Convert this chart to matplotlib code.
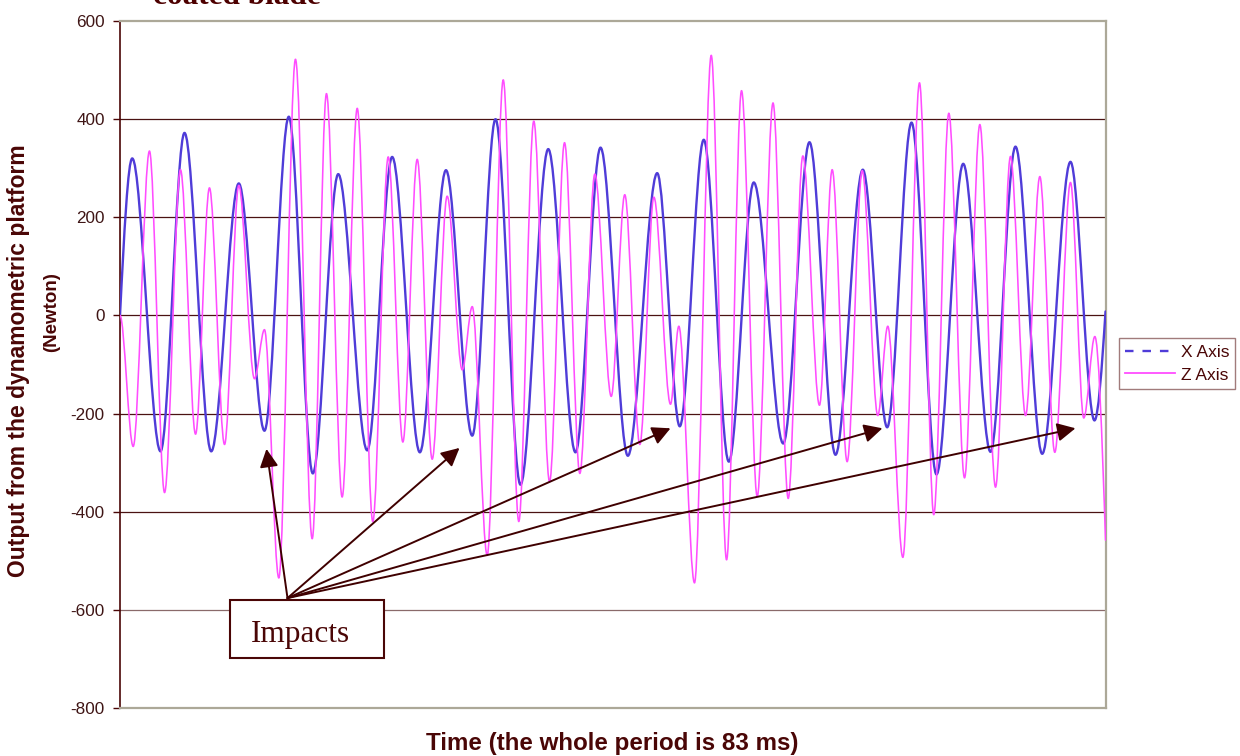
import numpy as np
import matplotlib
matplotlib.use("Agg")
import matplotlib.pyplot as plt
from matplotlib.path import Path
from matplotlib.patches import PathPatch, Rectangle
from matplotlib.lines import Line2D

# ---------------- data (extrema) ----------------
# X Axis force (N): time (ms) of each turning point and its value
x_axis_t = [0.0, 1.03, 3.41, 5.43, 7.68, 10.0, 12.16, 14.21, 16.23, 18.37, 20.81,
            22.91, 25.24, 27.44, 29.65, 31.61, 33.71, 36.05, 38.34, 40.45, 42.75,
            45.22, 47.12, 49.14, 51.25, 53.35, 55.83, 58.04, 60.23, 62.53, 64.58,
            66.63, 68.73, 70.98, 73.28, 75.38, 77.63, 80.01, 82.03, 82.96]
x_axis_v = [0, 320, -277, 372, -277, 269, -235, 405, -322, 288, -275,
            323, -279, 296, -245, 400, -345, 339, -279, 342, -286,
            290, -226, 358, -298, 271, -261, 353, -284, 297, -228,
            393, -324, 309, -278, 344, -282, 313, -214, 8]

# Z Axis force (N)
z_axis_t = [0.0, 1.11, 2.48, 3.75, 5.09, 6.36, 7.53, 8.8, 10.0, 11.32, 12.16,
            13.37, 14.77, 16.18, 17.38, 18.7, 19.97, 21.28, 22.58, 23.81, 25.02,
            26.28, 27.54, 28.81, 29.65, 30.91, 32.26, 33.57, 34.83, 36.16, 37.42,
            38.71, 39.97, 41.35, 42.49, 43.76, 44.94, 46.34, 47.04, 48.36, 49.77,
            51.06, 52.32, 53.64, 54.97, 56.25, 57.48, 58.88, 59.95, 61.21, 62.48,
            63.79, 64.63, 65.9, 67.3, 68.5, 69.77, 71.09, 72.38, 73.7, 74.96,
            76.23, 77.43, 78.69, 80.01, 81.13, 82.06, 82.96]
z_axis_v = [0, -267, 335, -361, 297, -242, 260, -263, 265, -129, -29,
            -535, 522, -455, 452, -370, 422, -420, 323, -258, 318,
            -293, 243, -111, 18, -489, 480, -420, 396, -339, 352,
            -322, 288, -165, 246, -263, 241, -181, -22, -545, 530,
            -498, 458, -369, 433, -373, 325, -183, 297, -298, 295,
            -204, -22, -493, 474, -406, 412, -331, 389, -350, 324,
            -204, 283, -279, 271, -209, -43, -458]

series_names = ["X Axis", "Z Axis"]
y_ticks = [-800, -600, -400, -200, 0, 200, 400, 600]
period_ms = 83

# ---------------- styling ----------------
TXT = "#4a0606"
BLUE = "#4f3cd8"
MAGENTA = "#ff4dff"
GRID = "#4a1212"
FRAME = "#aca898"

plt.rcParams["font.family"] = ["Liberation Sans", "DejaVu Sans"]

fig = plt.figure(figsize=(12.4, 7.56), dpi=100)
ax = fig.add_axes([120 / 1240, 1 - 708 / 756, 986 / 1240, 687 / 756])


def smooth_path(t, v, start_turn=True, end_turn=False):
    """Smooth Bezier path through turning points (horizontal tangents)."""
    n = len(t)
    slopes = [0.0] * n
    if not start_turn:
        slopes[0] = (v[1] - v[0]) / (t[1] - t[0]) * np.pi / 2
    if not end_turn:
        slopes[-1] = (v[-1] - v[-2]) / (t[-1] - t[-2]) * np.pi / 2
    verts = [(t[0], v[0])]
    codes = [Path.MOVETO]
    for i in range(n - 1):
        dt = t[i + 1] - t[i]
        verts.append((t[i] + dt / 3, v[i] + slopes[i] * dt / 3))
        verts.append((t[i + 1] - dt / 3, v[i + 1] - slopes[i + 1] * dt / 3))
        verts.append((t[i + 1], v[i + 1]))
        codes += [Path.CURVE4] * 3
    return Path(verts, codes)


ax.add_patch(PathPatch(smooth_path(x_axis_t, x_axis_v, start_turn=False),
                       fill=False, edgecolor=BLUE, lw=1.7, zorder=3,
                       capstyle="round", joinstyle="round"))
ax.add_patch(PathPatch(smooth_path(z_axis_t, z_axis_v, start_turn=True),
                       fill=False, edgecolor=MAGENTA, lw=1.15, zorder=4,
                       capstyle="round", joinstyle="round"))

ax.set_xlim(0, period_ms)
ax.set_ylim(-800, 600)
ax.set_xticks([])
ax.set_yticks(y_ticks)
ax.set_yticklabels([str(v) for v in y_ticks], fontsize=12.3, color="#3f1515")
ax.tick_params(axis="y", direction="out", length=5, width=1, color=TXT, pad=6)

ax.yaxis.grid(True, color=GRID, lw=0.9)
ax.set_axisbelow(True)
for val, gl in zip(y_ticks, ax.get_ygridlines()):
    if val in (-800, 600):
        gl.set_visible(False)
    elif val == -600:
        gl.set_color("#8a6a6a")

for side in ("top", "right", "bottom"):
    ax.spines[side].set_color(FRAME)
    ax.spines[side].set_linewidth(1.6)
ax.spines["left"].set_color(TXT)
ax.spines["left"].set_linewidth(1.2)

# ---------------- annotation: impacts ----------------
arrow_start = (14.1, -576)
arrow_tips = [(12.33, -272), (28.58, -270), (46.34, -230), (64.18, -230), (80.43, -230)]
for tip in arrow_tips:
    ax.annotate("", xy=tip, xytext=arrow_start,
                arrowprops=dict(arrowstyle="-|>,head_length=0.55,head_width=0.28",
                                mutation_scale=20, color="#3f0000", lw=1.4,
                                shrinkA=0, shrinkB=0), zorder=6)
ax.add_patch(Rectangle((9.24, -698), 22.2 - 9.24, 118, facecolor="white",
                       edgecolor="#4a0606", lw=1.5, zorder=7))
ax.text(15.15, -665, "Impacts", fontsize=22.5, family=["Liberation Serif"],
        color=TXT, ha="center", va="baseline", zorder=8)

# ---------------- texts ----------------
fig.text(153 / 1240, 1 - 4 / 756, "coated blade", fontsize=22.5,
         family=["Liberation Serif"], weight="bold", color="#4d0000",
         ha="left", va="baseline")
fig.text(612 / 1240, 1 - 750 / 756, "Time (the whole period is 83 ms)",
         fontsize=17.4, weight="bold", color=TXT, ha="center", va="baseline")
fig.text(19 / 1240, 1 - 361 / 756, "Output from the dynamometric platform",
         fontsize=16.5, weight="bold", color=TXT, rotation=90,
         ha="center", va="center")
fig.text(52 / 1240, 1 - 312 / 756, "(Newton)", fontsize=13.5, weight="bold",
         color=TXT, rotation=90, ha="center", va="center")

# ---------------- legend ----------------
handles = [Line2D([], [], color=BLUE, lw=1.7, ls=(0, (3.6, 3.8))),
           Line2D([], [], color=MAGENTA, lw=1.3)]
leg = fig.legend(handles, series_names, loc="center left",
                 bbox_to_anchor=(1119 / 1240, 1 - 363.5 / 756),
                 fontsize=12.5, frameon=True, fancybox=False,
                 handlelength=2.9, handletextpad=0.3, borderpad=0.35,
                 labelspacing=0.45, borderaxespad=0)
leg.get_frame().set_edgecolor("#8a5a5a")
leg.get_frame().set_linewidth(1.0)
for txt in leg.get_texts():
    txt.set_color(TXT)

fig.savefig("out.png", dpi=100, facecolor="white")
